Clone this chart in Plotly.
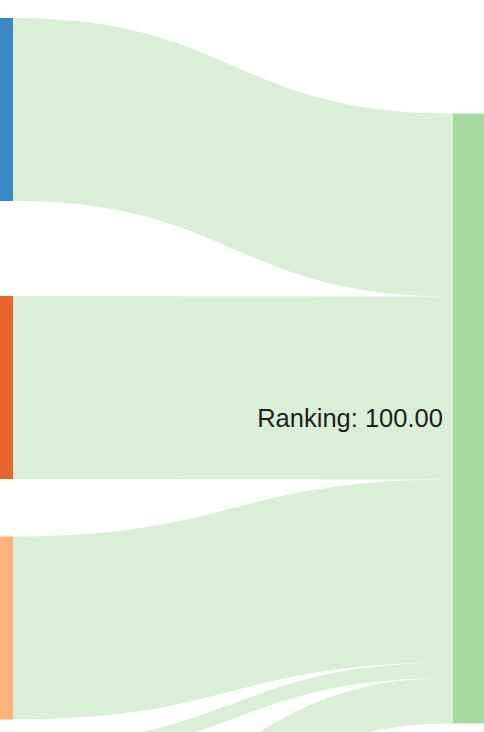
import plotly.graph_objects as go

# Nodes (three visible sources, two sources below the visible crop, one target)
node_labels = ["", "", "", "", "", "Ranking: 100.00\u00a0"]
node_colors = ["#3c87c5", "#e8662b", "#fdb47a", "#74c476", "#31a354", "#a6dba0"]

# Links: source index -> target index with values (target total = 100)
link_sources = [0, 1, 2, 3, 4]
link_targets = [5, 5, 5, 5, 5]
link_values = [30, 30, 30, 2.5, 7.5]
link_color = "rgba(161,217,155,0.4)"

W, H = 484, 732
T = 40  # node thickness
node_x = [(13 - T / 2) / W] * 5 + [(453 + T / 2) / W]
node_y = [109.5 / H, 387.5 / H, 628 / H, 752 / H, 843 / H, 418.5 / H]

fig = go.Figure(
    go.Sankey(
        arrangement="fixed",
        domain=dict(x=[0, 1], y=[0, 1]),
        node=dict(
            label=node_labels,
            color=node_colors,
            thickness=T,
            pad=30.5,
            line=dict(width=0),
            x=node_x,
            y=node_y,
        ),
        link=dict(
            source=link_sources,
            target=link_targets,
            value=link_values,
            color=link_color,
        ),
        textfont=dict(family="Liberation Sans, Arial, sans-serif", size=25.5, color="#1e1e1e", shadow="none"),
    )
)

fig.update_layout(
    width=W,
    height=H,
    margin=dict(l=0, r=0, t=0, b=0),
    paper_bgcolor="white",
    plot_bgcolor="white",
)

fig.write_html(
    "out.html",
    config={"displayModeBar": False},
    post_script="document.body.style.margin='0';document.body.style.overflow='hidden';",
)
